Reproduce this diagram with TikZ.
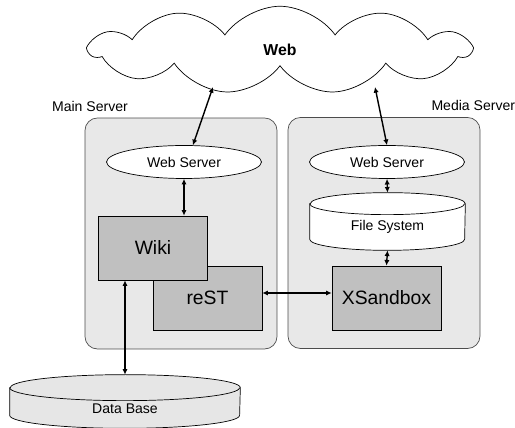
\documentclass[tikz,border=0pt]{standalone}
\usepackage{fontspec}
\setmainfont{Liberation Sans}
\usetikzlibrary{arrows.meta,positioning,shapes.geometric,shapes.symbols}
\definecolor{srvgray}{RGB}{232,232,232}
\definecolor{boxgray}{RGB}{192,192,192}
\definecolor{dbgray}{RGB}{230,230,230}
% drum outline round a plain node: name, x radius, y radius, fill
\newcommand{\drawdrum}[4]{%
  \draw[fill=#4] ([yshift=-#3]#1.north west) -- ([yshift=#3]#1.south west)
    arc[start angle=180, end angle=360, x radius=#2, y radius=#3]
    -- ([yshift=-#3]#1.north east)
    arc[start angle=0, end angle=180, x radius=#2, y radius=#3] -- cycle;
  \draw ([yshift=-#3]#1.north west)
    arc[start angle=180, end angle=360, x radius=#2, y radius=#3];
}

\begin{document}
\begin{tikzpicture}[
  x=0.02cm, y=-0.02cm, >={Latex[length=3.2pt,width=3pt]},
  font=\fontsize{8}{10}\selectfont,
  server/.style={draw=black!70, fill=srvgray, rounded corners=7pt, minimum width=3.84cm, minimum height=4.62cm},
  websrv/.style={ellipse, draw, fill=white, minimum width=3.1cm, minimum height=0.66cm, inner sep=0pt},
  comp/.style={draw, fill=boxgray, minimum width=2.18cm, minimum height=1.28cm, font=\fontsize{11}{13}\selectfont},
  store/.style={inner sep=0pt},
  link/.style={<->, thick},
]
\useasboundingbox (0,0) rectangle (515,428);
% ---- the web
\node[cloud, draw, fill=white, cloud puffs=11, cloud puff arc=110, cloud ignores aspect,
  minimum width=7.6cm, minimum height=1.75cm, font=\bfseries\fontsize{9}{11}\selectfont] (web) at (280,50) {Web};
\coordinate (webL) at (213,87);
\coordinate (webR) at (375,87);
% ---- servers
\node[server] (main) at (181,233.5) {};
\node[server] (media) at (384,233) {};
\node[above=0pt of main.north west, xshift=3pt] {Main Server};
\node[above=0pt of media.north east, xshift=-4pt] {Media Server};
% ---- main server parts
\node[websrv] (ws1) at (184,162) {Web Server};
\node[comp] (rest) at (207.5,298) {reST};
\node[comp] (wiki) at (153,248) {Wiki};
% ---- media server parts
\node[websrv] (ws2) at (387,162) {Web Server};
\node[store, minimum width=3.1cm, minimum height=1.14cm] (fs) at (387.5,221.5) {};
\drawdrum{fs}{1.55cm}{0.22cm}{white}
\node (fslabel) at ([yshift=-0.11cm]fs.center) {File System};
\node[comp] (xsb) at (386.5,298) {XSandbox};
% ---- data base
\node[store, minimum width=4.6cm, minimum height=1.06cm] (db) at (125,401.5) {};
\drawdrum{db}{2.3cm}{0.26cm}{dbgray}
\node (dblabel) at ([yshift=-0.15cm]db.center) {Data Base};
% ---- links
\draw[link] (webL) -- (ws1.62);
\draw[link] (webR) -- (ws2.north);
\draw[link] (ws1.south) -- (ws1.south |- wiki.north);
\draw[link] (ws2.south) -- (fs.north);
\draw[link] (fs.south) -- (xsb.north);
\draw[link] ([yshift=0.1cm]rest.east) -- ([yshift=0.1cm]xsb.west);
\draw[link] (db.north |- wiki.south) -- (db.north);
\end{tikzpicture}
\end{document}
